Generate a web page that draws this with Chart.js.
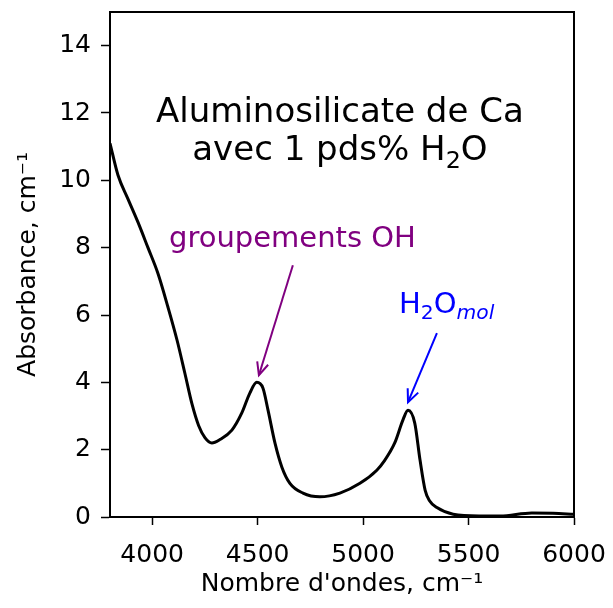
<!DOCTYPE html>
<html>
<head>
<meta charset="utf-8">
<script src="https://cdn.jsdelivr.net/npm/chart.js@4"></script>
<style>
  body { margin: 0; background: #fff; }
  #wrap { width: 613px; height: 608px; }
</style>
</head>
<body>
<div id="wrap"><canvas id="grafica"></canvas></div>
<script>
// spectre
var nombreOndes = [3800, 3838, 3885, 3933, 3980, 4027, 4075, 4118, 4155, 4189, 4220, 4250, 4283, 4321, 4378, 4425, 4463, 4496, 4525, 4549, 4582, 4615, 4653, 4715, 4795, 4890, 4985, 5065, 5100, 5150, 5190, 5213, 5245, 5270, 5294, 5315, 5350, 5427, 5550, 5650, 5800, 5900, 6000];
var absorbance = [11.1, 10.15, 9.45, 8.75, 8.0, 7.24, 6.23, 5.25, 4.27, 3.35, 2.72, 2.36, 2.2, 2.3, 2.58, 3.09, 3.68, 4.0, 3.83, 3.18, 2.2, 1.48, 1.0, 0.71, 0.6, 0.71, 1.0, 1.39, 1.66, 2.2, 2.9, 3.17, 2.79, 1.69, 0.8, 0.48, 0.28, 0.08, 0.03, 0.03, 0.12, 0.11, 0.08];
var ticksX = [4000, 4500, 5000, 5500, 6000];
var ticksY = [0, 2, 4, 6, 8, 10, 12, 14];

var police = "'DejaVu Sans', sans-serif";

var points = [];
for (let i in nombreOndes) {
  points.push({ x: nombreOndes[i], y: absorbance[i] });
}

// fleche + texte
function fleche(ctx, x1, y1, x2, y2, couleur) {
  ctx.save();
  ctx.strokeStyle = couleur;
  ctx.lineWidth = 2;
  ctx.beginPath();
  ctx.moveTo(x1, y1);
  ctx.lineTo(x2, y2);
  ctx.stroke();
  var a = Math.atan2(y2 - y1, x2 - x1);
  var l = 14;
  ctx.beginPath();
  ctx.moveTo(x2 - l * Math.cos(a - 0.42), y2 - l * Math.sin(a - 0.42));
  ctx.lineTo(x2, y2);
  ctx.lineTo(x2 - l * Math.cos(a + 0.42), y2 - l * Math.sin(a + 0.42));
  ctx.stroke();
  ctx.restore();
}

// texte avec morceaux (normal / indice / italique)
function texteRiche(ctx, morceaux, cx, cy, taille, couleur) {
  ctx.save();
  ctx.fillStyle = couleur;
  ctx.textBaseline = 'alphabetic';
  var total = 0;
  morceaux.forEach(function (m) {
    var t = m.sub ? taille * 0.7 : taille;
    ctx.font = (m.it ? 'italic ' : '') + t + 'px ' + police;
    m.w = ctx.measureText(m.t).width;
    total += m.w;
  });
  var x = cx - total / 2;
  morceaux.forEach(function (m) {
    var t = m.sub ? taille * 0.7 : taille;
    ctx.font = (m.it ? 'italic ' : '') + t + 'px ' + police;
    ctx.textAlign = 'left';
    ctx.fillText(m.t, x, cy + (m.sub ? taille * 0.22 : 0));
    x += m.w;
  });
  ctx.restore();
}

var annotations = {
  id: 'annotations',
  afterDraw: function (chart) {
    var ctx = chart.ctx;
    var sx = chart.scales.x, sy = chart.scales.y;
    var a = chart.chartArea;
    // cadre complet
    ctx.save();
    ctx.strokeStyle = '#000';
    ctx.lineWidth = 2;
    ctx.strokeRect(a.left, a.top, a.right - a.left, a.bottom - a.top);
    ctx.restore();

    texteRiche(ctx, [{ t: 'Aluminosilicate de Ca' }], sx.getPixelForValue(4890), sy.getPixelForValue(11.73), 34, '#000');
    texteRiche(ctx, [{ t: 'avec 1 pds% H' }, { t: '2', sub: true }, { t: 'O' }], sx.getPixelForValue(4890), sy.getPixelForValue(10.6), 34, '#000');

    texteRiche(ctx, [{ t: 'groupements OH' }], sx.getPixelForValue(4665), sy.getPixelForValue(8.02), 29, '#800080');
    fleche(ctx, sx.getPixelForValue(4667), sy.getPixelForValue(7.48), sx.getPixelForValue(4506), sy.getPixelForValue(4.21), '#800080');

    texteRiche(ctx, [{ t: 'H' }, { t: '2', sub: true }, { t: 'O' }, { t: 'mol', sub: true, it: true }], sx.getPixelForValue(5396), sy.getPixelForValue(6.06), 29, '#0000ff');
    fleche(ctx, sx.getPixelForValue(5350), sy.getPixelForValue(5.46), sx.getPixelForValue(5213), sy.getPixelForValue(3.41), '#0000ff');
  }
};

var ctx = document.getElementById('grafica').getContext('2d');
var myChart = new Chart(ctx, {
  type: 'line',
  data: {
    datasets: [{
      data: points,
      borderColor: '#000',
      borderWidth: 3,
      pointRadius: 0,
      cubicInterpolationMode: 'monotone',
      fill: false
    }]
  },
  options: {
    responsive: true,
    maintainAspectRatio: false,
    animation: false,
    layout: { padding: { top: 12, right: 39, left: 0, bottom: 0 } },
    plugins: { legend: { display: false }, tooltip: { enabled: false } },
    scales: {
      x: {
        type: 'linear',
        min: 3800,
        max: 6000,
        afterBuildTicks: function (ax) { ax.ticks = ticksX.map(function (v) { return { value: v }; }); },
        afterFit: function (ax) { ax.height = 91; ax.paddingLeft = 0; ax.paddingRight = 0; },
        grid: { drawOnChartArea: false, tickLength: 8, tickColor: '#000', tickWidth: 1.5 },
        border: { color: '#000', width: 2 },
        ticks: { color: '#000', font: { family: police, size: 25 }, padding: 15, maxRotation: 0, callback: function (v) { return String(v); } },
        title: { display: true, text: "Nombre d'ondes, cm\u207B\u00B9", color: '#000', font: { family: police, size: 25 }, padding: { top: 0, bottom: 9 } }
      },
      y: {
        min: 0,
        max: 15,
        afterBuildTicks: function (ax) { ax.ticks = ticksY.map(function (v) { return { value: v }; }); },
        afterFit: function (ax) { ax.width = 110; ax.paddingTop = 0; ax.paddingBottom = 0; },
        grid: { drawOnChartArea: false, tickLength: 9, tickColor: '#000', tickWidth: 1.5 },
        border: { color: '#000', width: 2 },
        ticks: { color: '#000', font: { family: police, size: 25 }, padding: 10, callback: function (v) { return String(v); } },
        title: { display: true, text: 'Absorbance, cm\u207B\u00B9', color: '#000', font: { family: police, size: 25 }, padding: { top: 13, bottom: 0 } }
      }
    }
  },
  plugins: [annotations]
});
</script>
</body>
</html>
